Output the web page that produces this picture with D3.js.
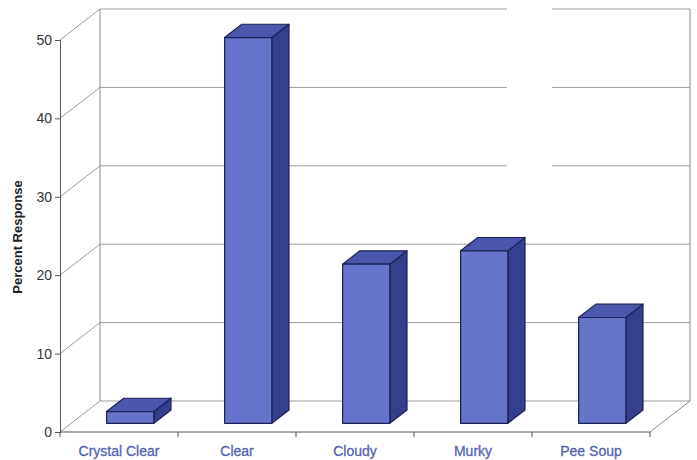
<!DOCTYPE html>
<html>
<head>
<meta charset="utf-8">
<script src="https://cdn.jsdelivr.net/npm/d3@7"></script>
<style>
  html, body { margin: 0; padding: 0; background: #fff; }
  svg { display: block; }
</style>
</head>
<body>
<svg id="chart" width="697" height="460"></svg>
<script>
// Survey results: perceived water clarity
const categories = ["Crystal Clear", "Clear", "Cloudy", "Murky", "Pee Soup"];
const values = [1.5, 49.2, 20.3, 22.0, 13.5];
const yTicks = [0, 10, 20, 30, 40, 50];

const svg = d3.select("#chart");

// Plot frame (front plane) and 3D depth vector
const x = d3.scaleBand().domain(categories).range([60, 650]);
const y = d3.scaleLinear().domain([0, 50]).range([432, 40]);
const depth = { dx: 40, dy: -31 };
const barFront = 0.28, barBack = 0.71;   // bar position along the depth
const barFrac = 0.40;                    // bar width as a share of the band

const proj = (px, v, d) => [px + d * depth.dx, y(v) + d * depth.dy];
const poly = pts => pts.map(p => p.join(",")).join(" ");

const grid = svg.append("g").attr("fill", "none");

// Gridlines: slanted across the left wall, then along the back wall
yTicks.forEach(t => {
  const a = proj(60, t, 0), b = proj(60, t, 1);
  grid.append("polyline")
    .attr("points", poly([a, b, [690, b[1]]]))
    .attr("stroke", "#9d9d9d").attr("stroke-width", 1);
});

// Back wall verticals and right floor edge
const backTop = proj(60, 50, 1)[1];
const backFloor = proj(60, 0, 1)[1];
grid.append("line").attr("x1", 100).attr("x2", 100).attr("y1", backTop).attr("y2", backFloor)
  .attr("stroke", "#8a8a8a");
grid.append("line").attr("x1", 690).attr("x2", 690).attr("y1", backTop).attr("y2", backFloor)
  .attr("stroke", "#8a8a8a");
grid.append("polyline")
  .attr("points", poly([proj(650, 0, 0), proj(650, 0, 1)]))
  .attr("stroke", "#8a8a8a");

// Faded patch in the upper back wall
svg.append("rect").attr("x", 507).attr("y", 0).attr("width", 45).attr("height", 178)
  .attr("fill", "#fff");

// Bars as extruded boxes
const bars = svg.append("g").attr("stroke", "#1c2155").attr("stroke-width", 1.2)
  .attr("stroke-linejoin", "round");

categories.forEach((c, i) => {
  const v = values[i];
  const bw = x.bandwidth() * barFrac;
  const x0 = x(c) + (x.bandwidth() - bw) / 2, x1 = x0 + bw;
  const g = bars.append("g");
  // side face
  g.append("polygon")
    .attr("points", poly([proj(x1, 0, barFront), proj(x1, v, barFront), proj(x1, v, barBack), proj(x1, 0, barBack)]))
    .attr("fill", "#363f8c");
  // top face
  g.append("polygon")
    .attr("points", poly([proj(x0, v, barFront), proj(x1, v, barFront), proj(x1, v, barBack), proj(x0, v, barBack)]))
    .attr("fill", "#4b57ad");
  // front face
  g.append("polygon")
    .attr("points", poly([proj(x0, 0, barFront), proj(x1, 0, barFront), proj(x1, v, barFront), proj(x0, v, barFront)]))
    .attr("fill", "#6674cc");
});

// Value axis on the front-left edge
const yAxis = svg.append("g").attr("transform", "translate(60,0)")
  .call(d3.axisLeft(y).tickValues(yTicks).tickSize(5).tickPadding(3).tickFormat(d3.format("d")));
yAxis.select(".domain").attr("stroke", "#555");
yAxis.selectAll(".tick line").attr("stroke", "#555");
yAxis.selectAll(".tick text")
  .attr("font-family", "Liberation Sans, Arial, sans-serif")
  .attr("font-size", 14).attr("fill", "#333");

// Category axis on the front floor edge
const xAxis = svg.append("g").attr("transform", "translate(0,432)");
xAxis.append("line").attr("x1", 60).attr("x2", 650).attr("stroke", "#555");
const bounds = [60].concat(categories.map(c => x(c) + x.bandwidth()));
xAxis.selectAll("line.tk").data(bounds).join("line").attr("class", "tk")
  .attr("x1", d => d).attr("x2", d => d).attr("y1", 0).attr("y2", 5).attr("stroke", "#555");
xAxis.selectAll("text").data(categories).join("text")
  .attr("x", d => x(d) + x.bandwidth() / 2)
  .attr("y", 24)
  .attr("text-anchor", "middle")
  .attr("font-family", "Liberation Sans, Arial, sans-serif")
  .attr("font-size", 14)
  .attr("fill", "#5563ad")
  .attr("stroke", "#5563ad").attr("stroke-width", 0.3)
  .text(d => d);

// Axis title
svg.append("text")
  .attr("transform", "translate(22,237) rotate(-90)")
  .attr("text-anchor", "middle")
  .attr("font-family", "Liberation Sans, Arial, sans-serif")
  .attr("font-size", 13).attr("font-weight", "bold").attr("fill", "#222")
  .text("Percent Response");
</script>
</body>
</html>
